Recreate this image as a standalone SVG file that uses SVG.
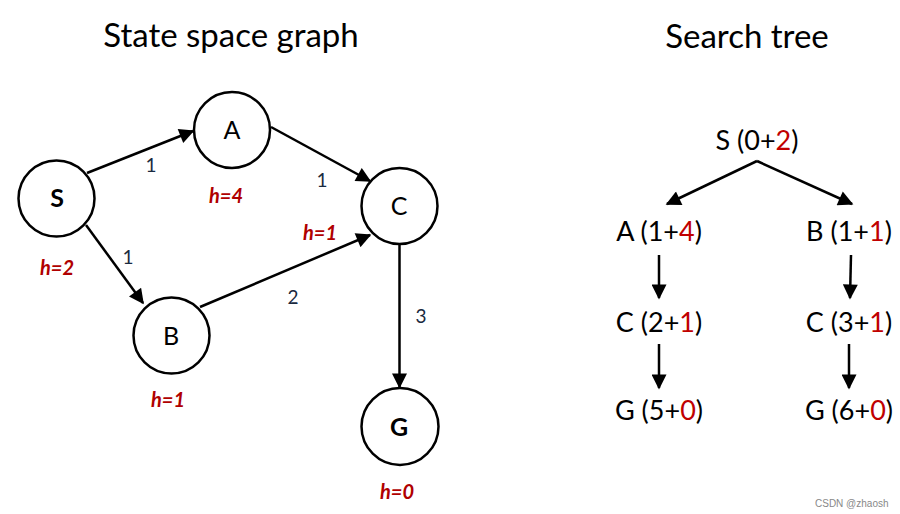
<svg xmlns="http://www.w3.org/2000/svg" width="900" height="514" viewBox="0 0 900 514">
<style>
text{font-family:Lato,"Open Sans","Liberation Sans",sans-serif;fill:#000}
.title{font-size:33px;text-anchor:middle}
.node circle{fill:#fff;stroke:#000;stroke-width:2.5}
.nl{font-size:25px;text-anchor:middle}
.h{font-size:20px;font-weight:bold;font-style:italic;fill:#b00000;text-anchor:middle}
.w{font-size:19px;text-anchor:middle;fill:#1a2a40}
.edge{stroke:#000;stroke-width:2.5;fill:none}
.t{font-size:27px;text-anchor:middle}
.r{fill:#c00000}
.wm{font-size:10px;fill:#888;font-family:"Liberation Sans",sans-serif}
</style>
<defs>
<marker id="ah" viewBox="0 0 10 10" refX="9" refY="5" markerWidth="6.5" markerHeight="6" orient="auto" markerUnits="strokeWidth">
<path d="M0,0 L10,5 L0,10 z" fill="#000"/>
</marker>
</defs>
<rect width="900" height="514" fill="#fff"/>
<text class="title" x="231" y="47">State space graph</text>
<text class="title" x="747" y="48">Search tree</text>

<g id="connectors">
<line class="edge" x1="87" y1="173" x2="193" y2="131" marker-end="url(#ah)"/>
<line class="edge" x1="271" y1="127" x2="370" y2="181" marker-end="url(#ah)"/>
<line class="edge" x1="86" y1="225" x2="143" y2="303" marker-end="url(#ah)"/>
<line class="edge" x1="200" y1="307" x2="370" y2="235" marker-end="url(#ah)"/>
<line class="edge" x1="399.5" y1="244" x2="399.5" y2="387" marker-end="url(#ah)"/>
<line class="edge" x1="757" y1="161" x2="667" y2="204" marker-end="url(#ah)"/>
<line class="edge" x1="757" y1="161" x2="852" y2="204" marker-end="url(#ah)"/>
<line class="edge" x1="659" y1="255" x2="659" y2="298" marker-end="url(#ah)"/>
<line class="edge" x1="851" y1="255" x2="850" y2="298" marker-end="url(#ah)"/>
<line class="edge" x1="659" y1="344" x2="659" y2="388" marker-end="url(#ah)"/>
<line class="edge" x1="849" y1="344" x2="849" y2="388" marker-end="url(#ah)"/>
</g>
<g id="edge-labels">
<text class="w" x="151" y="172">1</text>
<text class="w" x="322" y="187">1</text>
<text class="w" x="128" y="264">1</text>
<text class="w" x="293" y="304">2</text>
<text class="w" x="421" y="323">3</text>
</g>

<g id="node-S" class="node"><circle cx="56.5" cy="198.5" r="38"/><text class="nl" x="57" y="207" font-weight="bold">S</text><text class="h" x="57" y="275">h=2</text></g>
<g id="node-A" class="node"><circle cx="232" cy="130" r="38"/><text class="nl" x="232" y="139">A</text><text class="h" x="226" y="203">h=4</text></g>
<g id="node-C" class="node"><circle cx="399.5" cy="206" r="38"/><text class="nl" x="399" y="215">C</text><text class="h" x="320" y="240">h=1</text></g>
<g id="node-B" class="node"><circle cx="171.5" cy="335.5" r="38"/><text class="nl" x="171" y="345">B</text><text class="h" x="168" y="407">h=1</text></g>
<g id="node-G" class="node"><circle cx="400" cy="426.5" r="38.5"/><text class="nl" x="399" y="436" font-weight="bold">G</text><text class="h" x="397" y="499">h=0</text></g>

<g id="tree-S0"><text class="t" x="757" y="150">S (0+<tspan class="r">2</tspan>)</text></g>
<g id="tree-A1"><text class="t" x="659" y="241">A (1+<tspan class="r">4</tspan>)</text></g>
<g id="tree-B1"><text class="t" x="849" y="241">B (1+<tspan class="r">1</tspan>)</text></g>
<g id="tree-C2"><text class="t" x="659" y="332">C (2+<tspan class="r">1</tspan>)</text></g>
<g id="tree-C3"><text class="t" x="849" y="332">C (3+<tspan class="r">1</tspan>)</text></g>
<g id="tree-G5"><text class="t" x="659" y="420">G (5+<tspan class="r">0</tspan>)</text></g>
<g id="tree-G6"><text class="t" x="849" y="420">G (6+<tspan class="r">0</tspan>)</text></g>

<text class="wm" x="815" y="507">CSDN @zhaosh</text>
</svg>
